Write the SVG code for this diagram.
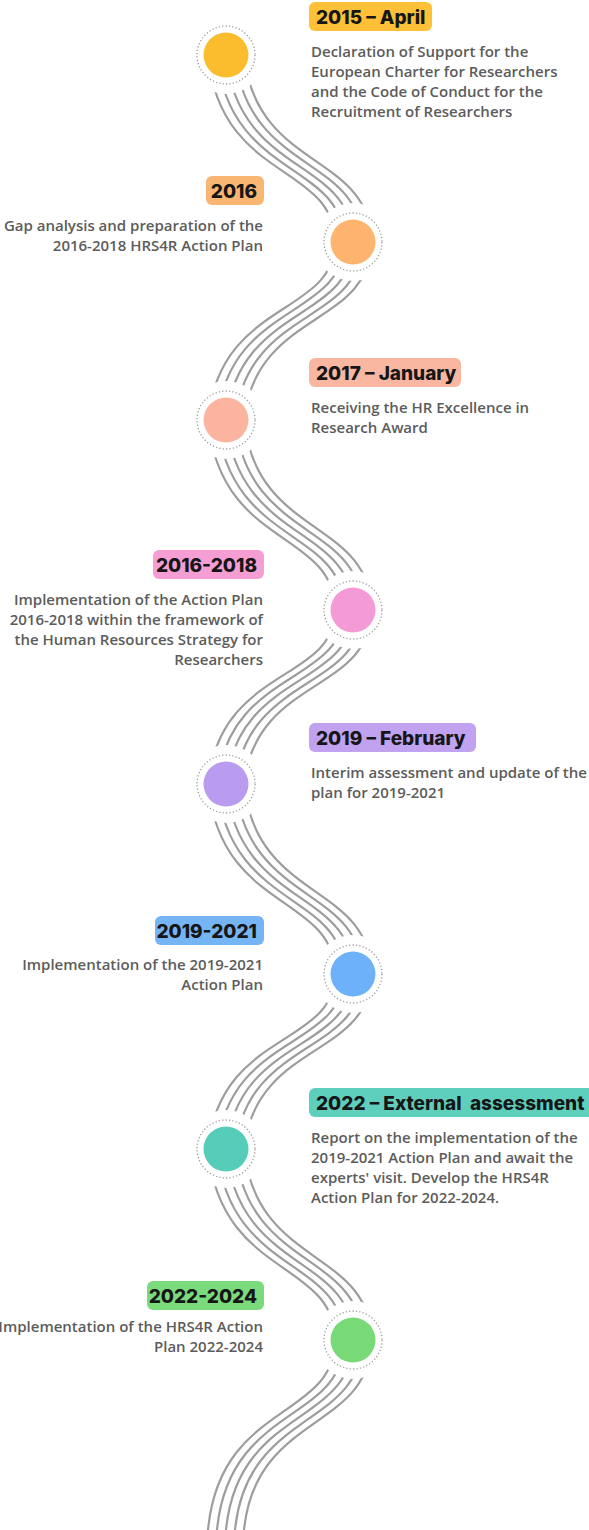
<svg xmlns="http://www.w3.org/2000/svg" width="589" height="1530" viewBox="0 0 589 1530">
  <style>
    .wave path { fill: none; stroke: #9c9d9f; stroke-width: 2.2; stroke-linecap: round; }
    .ring { fill: none; stroke: #9a9a9a; stroke-width: 1.3; stroke-dasharray: 1.2 2.2; }
    .tag { font-family: Inter, "Liberation Sans", sans-serif; font-weight: 800; font-size: 19px; fill: #161616; }
    .desc { font-family: "Open Sans", "Liberation Sans", sans-serif; font-weight: 600; font-size: 15px; fill: #5c5c5c; }
    .end { text-anchor: end; }
  </style>
  <defs>
    <!-- keeps the bands clear of the stops -->
    <mask id="cut" maskUnits="userSpaceOnUse" x="0" y="0" width="589" height="1530">
      <rect x="0" y="0" width="589" height="1530" fill="#fff"/>
      <circle cx="226" cy="55" r="39" fill="#000"/>
      <circle cx="353" cy="242" r="39" fill="#000"/>
      <circle cx="226" cy="420" r="39" fill="#000"/>
      <circle cx="353" cy="610" r="39" fill="#000"/>
      <circle cx="226" cy="784" r="39" fill="#000"/>
      <circle cx="353" cy="974" r="39" fill="#000"/>
      <circle cx="226" cy="1149" r="39" fill="#000"/>
      <circle cx="353" cy="1340" r="39" fill="#000"/>
    </mask>
  </defs>

  <rect width="589" height="1530" fill="#fff"/>

  <!-- five parallel strands between consecutive stops -->
  <g id="connectors" class="wave" mask="url(#cut)">
    <g id="band1">
      <path d="M208,55 C220,182 335,163.3 335,242"/>
      <path d="M217,55 C229,179.3 344,160.6 344,242"/>
      <path d="M226,55 C238,176.6 353,157.9 353,242"/>
      <path d="M235,55 C247,173.9 362,155.2 362,242"/>
      <path d="M244,55 C256,171.2 371,152.5 371,242"/>
    </g>
    <g id="band2">
      <path d="M335,242 C335,316.7 220,298.9 208,420"/>
      <path d="M344,242 C344,319.4 229,301.6 217,420"/>
      <path d="M353,242 C353,322.1 238,304.3 226,420"/>
      <path d="M362,242 C362,324.8 247,307 235,420"/>
      <path d="M371,242 C371,327.5 256,309.7 244,420"/>
    </g>
    <g id="band3">
      <path d="M208,420 C220,548.9 335,529.9 335,610"/>
      <path d="M217,420 C229,546.2 344,527.2 344,610"/>
      <path d="M226,420 C238,543.5 353,524.5 353,610"/>
      <path d="M235,420 C247,540.8 362,521.8 362,610"/>
      <path d="M244,420 C256,538.1 371,519.1 371,610"/>
    </g>
    <g id="band4">
      <path d="M335,610 C335,682.9 220,665.5 208,784"/>
      <path d="M344,610 C344,685.6 229,668.2 217,784"/>
      <path d="M353,610 C353,688.3 238,670.9 226,784"/>
      <path d="M362,610 C362,691 247,673.6 235,784"/>
      <path d="M371,610 C371,693.7 256,676.3 244,784"/>
    </g>
    <g id="band5">
      <path d="M208,784 C220,912.9 335,893.9 335,974"/>
      <path d="M217,784 C229,910.2 344,891.2 344,974"/>
      <path d="M226,784 C238,907.5 353,888.5 353,974"/>
      <path d="M235,784 C247,904.8 362,885.8 362,974"/>
      <path d="M244,784 C256,902.1 371,883.1 371,974"/>
    </g>
    <g id="band6">
      <path d="M335,974 C335,1047.4 220,1029.9 208,1149"/>
      <path d="M344,974 C344,1050.1 229,1032.6 217,1149"/>
      <path d="M353,974 C353,1052.8 238,1035.3 226,1149"/>
      <path d="M362,974 C362,1055.5 247,1038 235,1149"/>
      <path d="M371,974 C371,1058.2 256,1040.7 244,1149"/>
    </g>
    <g id="band7">
      <path d="M208,1149 C220,1278.6 335,1259.5 335,1340"/>
      <path d="M217,1149 C229,1275.9 344,1256.8 344,1340"/>
      <path d="M226,1149 C238,1273.2 353,1254.1 353,1340"/>
      <path d="M235,1149 C247,1270.5 362,1251.4 362,1340"/>
      <path d="M244,1149 C256,1267.8 371,1248.7 371,1340"/>
    </g>
    <g id="band8">
      <path d="M335,1340 C335,1420.1 220,1401.1 208,1530"/>
      <path d="M344,1340 C344,1422.8 229,1403.8 217,1530"/>
      <path d="M353,1340 C353,1425.5 238,1406.5 226,1530"/>
      <path d="M362,1340 C362,1428.2 247,1409.2 235,1530"/>
      <path d="M371,1340 C371,1430.9 256,1411.9 244,1530"/>
    </g>
  </g>

  <g id="stop-2015">
    <circle class="ring" cx="226" cy="55" r="29"/>
    <circle cx="226" cy="55" r="22.5" fill="#fbbd2e"/>
    <rect x="309" y="2" width="123" height="29" rx="6" fill="#fdc037"/>
    <text class="tag" x="316" y="23.5">2015 – April</text>
    <text class="desc" x="311" y="57">Declaration of Support for the</text>
    <text class="desc" x="311" y="77">European Charter for Researchers</text>
    <text class="desc" x="311" y="97">and the Code of Conduct for the</text>
    <text class="desc" x="311" y="117">Recruitment of Researchers</text>
  </g>

  <g id="stop-2016">
    <circle class="ring" cx="353" cy="242" r="29"/>
    <circle cx="353" cy="242" r="22.5" fill="#fdb46f"/>
    <rect x="206" y="176" width="58" height="29" rx="6" fill="#f9b673"/>
    <text class="tag end" x="257" y="197.5">2016</text>
    <text class="desc end" x="263" y="231">Gap analysis and preparation of the</text>
    <text class="desc end" x="263" y="251">2016-2018 HRS4R Action Plan</text>
  </g>

  <g id="stop-2017">
    <circle class="ring" cx="226" cy="420" r="29"/>
    <circle cx="226" cy="420" r="22.5" fill="#fbb4a0"/>
    <rect x="309" y="358" width="152" height="29" rx="6" fill="#f9b7a2"/>
    <text class="tag" x="316" y="379.5">2017 – January</text>
    <text class="desc" x="311" y="413">Receiving the HR Excellence in</text>
    <text class="desc" x="311" y="433">Research Award</text>
  </g>

  <g id="stop-2016-2018">
    <circle class="ring" cx="353" cy="610" r="29"/>
    <circle cx="353" cy="610" r="22.5" fill="#f49ad7"/>
    <rect x="153" y="550" width="111" height="29" rx="6" fill="#f49ed4"/>
    <text class="tag end" x="257" y="571.5">2016-2018</text>
    <text class="desc end" x="263" y="605">Implementation of the Action Plan</text>
    <text class="desc end" x="263" y="625">2016-2018 within the framework of</text>
    <text class="desc end" x="263" y="645">the Human Resources Strategy for</text>
    <text class="desc end" x="263" y="665">Researchers</text>
  </g>

  <g id="stop-2019">
    <circle class="ring" cx="226" cy="784" r="29"/>
    <circle cx="226" cy="784" r="22.5" fill="#b99bef"/>
    <rect x="309" y="723" width="167" height="29" rx="6" fill="#c0a2f0"/>
    <text class="tag" x="316" y="744.5">2019 – February</text>
    <text class="desc" x="311" y="778">Interim assessment and update of the</text>
    <text class="desc" x="311" y="798">plan for 2019-2021</text>
  </g>

  <g id="stop-2019-2021">
    <circle class="ring" cx="353" cy="974" r="29"/>
    <circle cx="353" cy="974" r="22.5" fill="#6db1f8"/>
    <rect x="155" y="916" width="109" height="29" rx="6" fill="#76b5f4"/>
    <text class="tag end" x="257" y="937.5">2019-2021</text>
    <text class="desc end" x="263" y="970">Implementation of the 2019-2021</text>
    <text class="desc end" x="263" y="990">Action Plan</text>
  </g>

  <g id="stop-2022">
    <circle class="ring" cx="226" cy="1149" r="29"/>
    <circle cx="226" cy="1149" r="22.5" fill="#55cdb8"/>
    <rect x="309" y="1088" width="290" height="29" rx="6" fill="#5ecfbc"/>
    <text class="tag" x="316" y="1109.5" xml:space="preserve">2022 – External  assessment</text>
    <text class="desc" x="311" y="1143">Report on the implementation of the</text>
    <text class="desc" x="311" y="1163">2019-2021 Action Plan and await the</text>
    <text class="desc" x="311" y="1183">experts' visit. Develop the HRS4R</text>
    <text class="desc" x="311" y="1203">Action Plan for 2022-2024.</text>
  </g>

  <g id="stop-2022-2024">
    <circle class="ring" cx="353" cy="1340" r="29"/>
    <circle cx="353" cy="1340" r="22.5" fill="#78d977"/>
    <rect x="147" y="1281" width="117" height="29" rx="6" fill="#7bda7b"/>
    <text class="tag end" x="257" y="1302.5">2022-2024</text>
    <text class="desc end" x="263" y="1332">Implementation of the HRS4R Action</text>
    <text class="desc end" x="263" y="1352">Plan 2022-2024</text>
  </g>
</svg>
